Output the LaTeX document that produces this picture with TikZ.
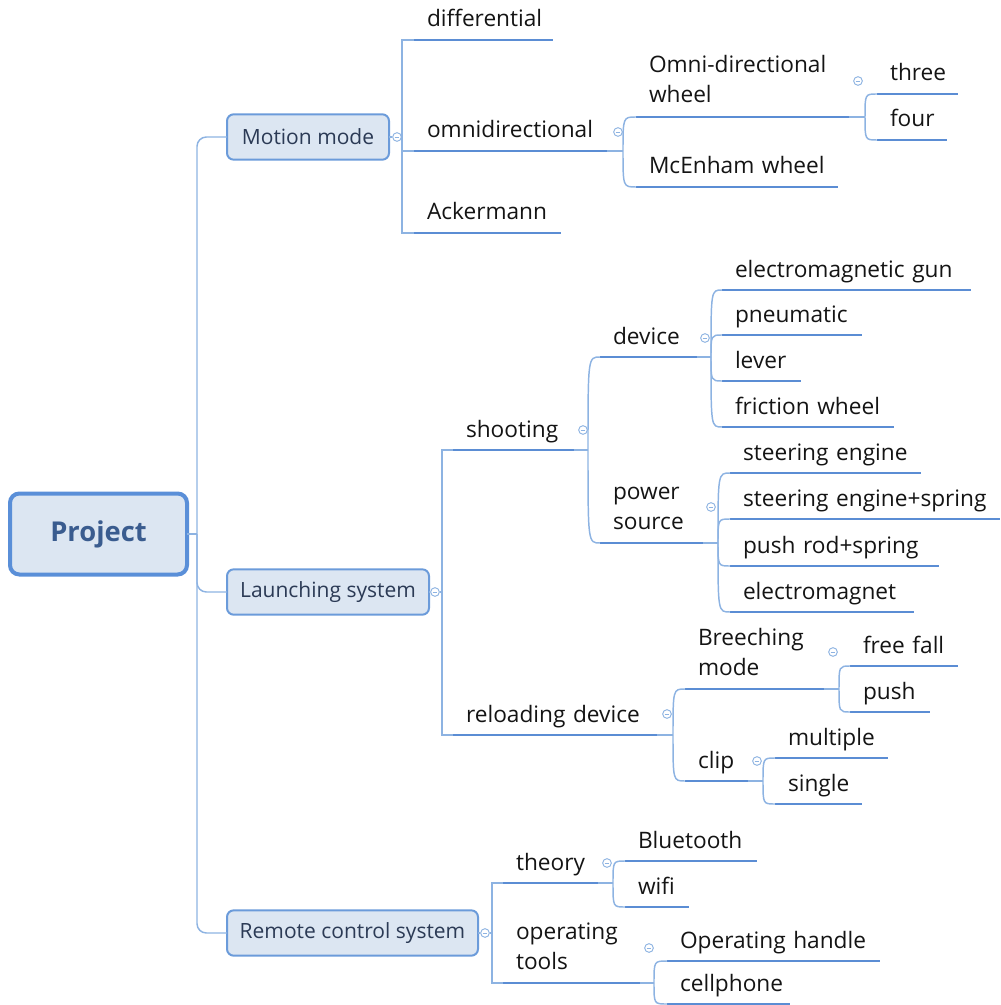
\documentclass[tikz,border=0pt]{standalone}
\usepackage{fontspec}
\setmainfont{Open Sans}
\definecolor{connc}{HTML}{8DB3E2}
\definecolor{ulc}{HTML}{5B8DD4}
\definecolor{boxf}{HTML}{DCE6F2}
\definecolor{boxc}{HTML}{6B9BDA}
\definecolor{rootc}{HTML}{5A8FD8}
\definecolor{txt}{HTML}{141414}
\definecolor{lonetxt}{HTML}{2B3A55}
\definecolor{roottxt}{HTML}{3A5C8F}
\tikzset{
  conn/.style={draw=connc, line width=1.1pt},
  uline/.style={draw=ulc, line width=2.2pt},
  uw/.code={\pgfmathsetlengthmacro\topicw{(#1)*0.75}\tikzset{text width/.expanded=\topicw}},
  topic/.style={anchor=south west, inner xsep=0pt, inner ysep=0pt, outer sep=0pt, align=left,
    text depth=9.75pt, font=\fontsize{17}{22.5}\selectfont, text=txt,
    execute at begin node={\leftskip=9.75pt\relax}},
  twoline/.style={text depth=33pt},
  lone/.style={draw=boxc, fill=boxf, line width=1.5pt, rounded corners=5pt, anchor=west,
    minimum height=34pt, inner sep=0pt, outer sep=0pt, font=\fontsize{15.75}{18}\selectfont, text=lonetxt},
  rootbox/.style={draw=rootc, fill=boxf, line width=3pt, rounded corners=7pt, anchor=west,
    minimum width=132.75pt, minimum height=60.75pt, inner sep=0pt, outer sep=0pt,
    font=\fontsize{20.5}{24}\selectfont\bfseries, text=roottxt},
  coll/.style={circle, draw=connc, fill=white, line width=0.7pt, minimum size=6.5pt, inner sep=0pt,
    path picture={\draw[connc, line width=0.6pt] ([xshift=-1.7pt]path picture bounding box.center) -- ([xshift=1.7pt]path picture bounding box.center);}},
}
\newcommand\branchcurve[2]{\draw[conn] (#1) .. controls (#1 |- #2.south west) .. (#2.south west);}
\begin{document}
\begin{tikzpicture}[x=0.75pt, y=-0.75pt]
\useasboundingbox (0,0) rectangle (1000,1005);

% root and level 1
\node[rootbox] (root) at (10,534) {Project};
\node[lone, minimum width=121.5pt] (motion) at (227,137) {Motion mode};
\node[lone, minimum width=151.5pt] (launch) at (227,592) {Launching system};
\node[lone, minimum width=188.25pt] (remote) at (227,933) {Remote control system};

% topics: Motion mode
\node[topic, uw=553-414] (diff) at (414,40) {differential};
\node[topic, uw=607-414] (omnid) at (414,151) {omnidirectional};
\node[topic, uw=561-414] (acker) at (414,233) {Ackermann};
\node[topic, twoline, uw=849-636] (omniw) at (636,117) {\mbox{Omni-directional}\\\mbox{wheel}};
\node[topic, uw=838-636] (mcen) at (636,187) {\mbox{McEnham wheel}};
\node[topic, uw=958-877] (three) at (877,94) {three};
\node[topic, uw=947-877] (four) at (877,140) {four};

% topics: Launching system
\node[topic, uw=574-453] (shoot) at (453,450) {shooting};
\node[topic, uw=657-453] (reload) at (453,735) {\mbox{reloading device}};
\node[topic, uw=697-600] (device) at (600,357) {device};
\node[topic, twoline, uw=703-600] (power) at (600,543) {\mbox{power}\\\mbox{source}};
\node[topic, uw=971-722] (emgun) at (722,290) {\mbox{electromagnetic gun}};
\node[topic, uw=862-722] (pneu) at (722,335) {pneumatic};
\node[topic, uw=801-722] (lever) at (722,381) {lever};
\node[topic, uw=894-722] (fric) at (722,427) {\mbox{friction wheel}};
\node[topic, uw=921-730] (steer) at (730,473) {\mbox{steering engine}};
\node[topic, uw=1000-730] (steers) at (730,519) {\mbox{steering engine+spring}};
\node[topic, uw=939-730] (pushrod) at (730,566) {\mbox{push rod+spring}};
\node[topic, uw=914-730] (emag) at (730,612) {electromagnet};
\node[topic, twoline, uw=824-685] (breech) at (685,689) {\mbox{Breeching}\\\mbox{mode}};
\node[topic, uw=748-685] (clip) at (685,781) {clip};
\node[topic, uw=958-850] (free) at (850,666) {\mbox{free fall}};
\node[topic, uw=930-850] (push) at (850,712) {push};
\node[topic, uw=888-775] (multi) at (775,758) {multiple};
\node[topic, uw=862-775] (single) at (775,804) {single};

% topics: Remote control system
\node[topic, uw=598-503] (theory) at (503,883) {theory};
\node[topic, twoline, uw=640-503] (optools) at (503,983) {\mbox{operating}\\\mbox{tools}};
\node[topic, uw=757-625] (blue) at (625,861) {Bluetooth};
\node[topic, uw=689-625] (wifi) at (625,907) {wifi};
\node[topic, uw=880-667] (handle) at (667,961) {\mbox{Operating handle}};
\node[topic, uw=790-667] (cell) at (667,1004) {cellphone};

% underlines
\foreach \n in {diff,omnid,acker,omniw,mcen,three,four,shoot,reload,device,power,emgun,pneu,lever,fric,
  steer,steers,pushrod,emag,breech,clip,free,push,multi,single,theory,optools,blue,wifi,handle,cell}
  \draw[uline] (\n.south west) -- (\n.south east);

% collapse markers
\node[coll] (cm) at (397,137) {};
\node[coll] (cl) at (435,592) {};
\node[coll] (crc) at (485,933) {};
\node[coll] (comni) at (618,132) {};
\node[coll] (cow) at (858,81) {};
\node[coll] (cs) at (583,430) {};
\node[coll] (cd) at (705,338) {};
\node[coll] (cp) at (711,507) {};
\node[coll] (cr) at (667,714) {};
\node[coll] (cb) at (833,652) {};
\node[coll] (cc) at (757,761) {};
\node[coll] (ct) at (607,863) {};
\node[coll] (cot) at (649,948) {};

% junctions
\coordinate (jr) at (197,534);
\coordinate (jm) at (402,137);
\coordinate (jl) at (442,592);
\coordinate (jrc) at (492,933);
\coordinate (jo) at (623,151);
\coordinate (jw) at (865,117);
\coordinate (js) at (588,450);
\coordinate (jd) at (711,357);
\coordinate (jp) at (718,543);
\coordinate (jrl) at (673,735);
\coordinate (jb) at (839,689);
\coordinate (jc) at (763,781);
\coordinate (jt) at (613,883);
\coordinate (jot) at (654,983);

% root trunk
\draw[conn] (root.east) -- (jr);
\draw[conn, rounded corners=7pt] (jr) |- (motion.west);
\draw[conn, rounded corners=7pt] (jr) |- (launch.west);
\draw[conn, rounded corners=7pt] (jr) |- (remote.west);

% level 1 to level 2 (elbows)
\draw[conn] (motion.east) -- (cm.west);
\draw[conn] (cm.east) -- (jm);
\draw[conn] (jm) |- (diff.south west);
\draw[conn] (jm) |- (omnid.south west);
\draw[conn] (jm) |- (acker.south west);

\draw[conn] (launch.east) -- (cl.west);
\draw[conn] (cl.east) -- (jl);
\draw[conn] (jl) |- (shoot.south west);
\draw[conn] (jl) |- (reload.south west);

\draw[conn] (remote.east) -- (crc.west);
\draw[conn] (crc.east) -- (jrc);
\draw[conn] (jrc) |- (theory.south west);
\draw[conn] (jrc) |- (optools.south west);

% curved branches
\draw[conn] (omnid.south east) -- (jo);
\branchcurve{jo}{omniw}
\branchcurve{jo}{mcen}
\draw[conn] (omniw.south east) -- (jw);
\branchcurve{jw}{three}
\branchcurve{jw}{four}

\draw[conn] (shoot.south east) -- (js);
\branchcurve{js}{device}
\branchcurve{js}{power}
\draw[conn] (device.south east) -- (jd);
\branchcurve{jd}{emgun}
\branchcurve{jd}{pneu}
\branchcurve{jd}{lever}
\branchcurve{jd}{fric}
\draw[conn] (power.south east) -- (jp);
\branchcurve{jp}{steer}
\branchcurve{jp}{steers}
\branchcurve{jp}{pushrod}
\branchcurve{jp}{emag}

\draw[conn] (reload.south east) -- (jrl);
\branchcurve{jrl}{breech}
\branchcurve{jrl}{clip}
\draw[conn] (breech.south east) -- (jb);
\branchcurve{jb}{free}
\branchcurve{jb}{push}
\draw[conn] (clip.south east) -- (jc);
\branchcurve{jc}{multi}
\branchcurve{jc}{single}

\draw[conn] (theory.south east) -- (jt);
\branchcurve{jt}{blue}
\branchcurve{jt}{wifi}
\draw[conn] (optools.south east) -- (jot);
\branchcurve{jot}{handle}
\branchcurve{jot}{cell}
\end{tikzpicture}
\end{document}
